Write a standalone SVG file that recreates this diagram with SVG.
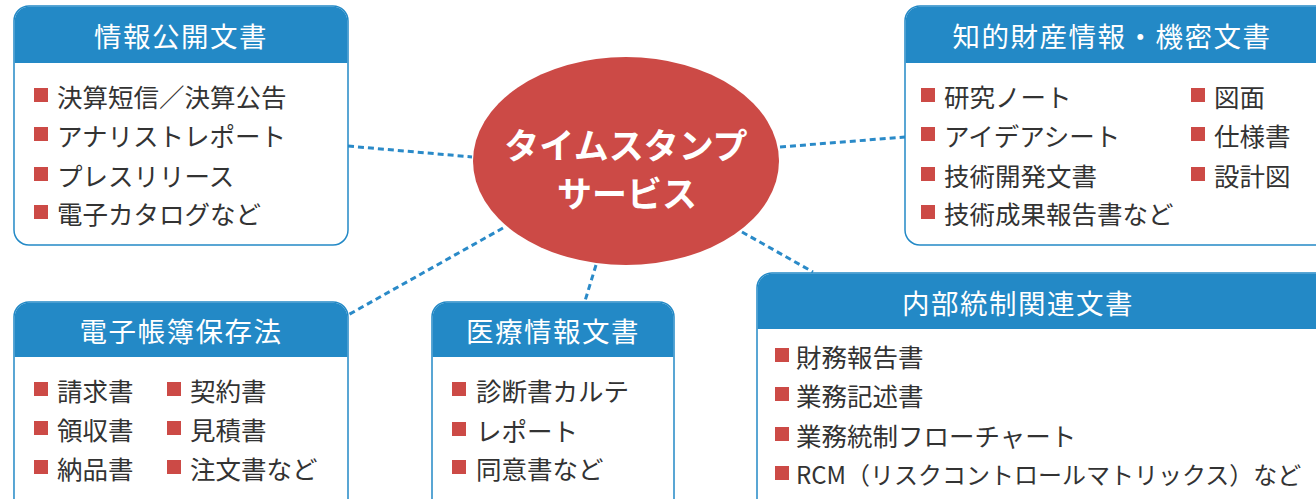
<svg xmlns="http://www.w3.org/2000/svg" width="1316" height="499" viewBox="0 0 1316 499">
<style>
.box{fill:#fff;stroke:#2389c6;stroke-width:1.5}
.hdr{fill:#2389c6}
.ht{fill:#fff;font-family:"Noto Sans CJK JP","Noto Sans",sans-serif;font-size:27.5px;letter-spacing:1.5px;text-anchor:middle;dominant-baseline:central}
.it{fill:#333;font-family:"Noto Sans CJK JP","Noto Sans",sans-serif;font-size:25.5px;dominant-baseline:central}
.sq{fill:#cc4a46}
.con{stroke:#2a8ac8;stroke-width:3;stroke-dasharray:6 4;fill:none}
.ct{fill:#fff;font-family:"Noto Sans CJK JP","Noto Sans",sans-serif;font-size:35px;font-weight:bold;text-anchor:middle;dominant-baseline:central}
</style>
<rect width="1316" height="499" fill="#fff"/>
<g id="connectors">
<line class="con" x1="348" y1="146" x2="472" y2="157"/>
<line class="con" x1="780" y1="147" x2="905" y2="137"/>
<line class="con" x1="503" y1="228" x2="348" y2="315"/>
<line class="con" x1="596" y1="265" x2="585" y2="301"/>
<line class="con" x1="742" y1="232" x2="813" y2="272"/>
</g>
<g id="center">
<ellipse cx="626" cy="161" rx="153" ry="104" fill="#cc4a46"/>
<text class="ct" x="626" y="143">タイムスタンプ</text>
<text class="ct" x="627" y="191">サービス</text>
</g>
<g id="box-info">
<rect class="box" x="14" y="6" width="334" height="239" rx="15"/>
<path class="hdr" d="M14.75 63 V21 A14.25 14.25 0 0 1 29 6.750 H333 A14.25 14.25 0 0 1 347.25 21 V63 Z"/>
<text class="ht" x="181" y="35">情報公開文書</text>
<rect class="sq" x="34" y="88" width="14" height="14"/><text class="it" x="57" y="95">決算短信／決算公告</text>
<rect class="sq" x="34" y="127" width="14" height="14"/><text class="it" x="57" y="134">アナリストレポート</text>
<rect class="sq" x="34" y="167" width="14" height="14"/><text class="it" x="57" y="174">プレスリリース</text>
<rect class="sq" x="34" y="205" width="14" height="14"/><text class="it" x="57" y="212">電子カタログなど</text>
</g>
<g id="box-ip">
<rect class="box" x="905" y="6" width="430" height="239" rx="15"/>
<path class="hdr" d="M905.75 63 V21 A14.25 14.25 0 0 1 920 6.75 H1330 V63 Z"/>
<text class="ht" x="1112" y="35">知的財産情報・機密文書</text>
<rect class="sq" x="921" y="88" width="14" height="14"/><text class="it" x="944" y="95">研究ノート</text>
<rect class="sq" x="921" y="127" width="14" height="14"/><text class="it" x="944" y="134">アイデアシート</text>
<rect class="sq" x="921" y="167" width="14" height="14"/><text class="it" x="944" y="174">技術開発文書</text>
<rect class="sq" x="921" y="205" width="14" height="14"/><text class="it" x="944" y="212">技術成果報告書など</text>
<rect class="sq" x="1191" y="88" width="14" height="14"/><text class="it" x="1214" y="95">図面</text>
<rect class="sq" x="1191" y="127" width="14" height="14"/><text class="it" x="1214" y="134">仕様書</text>
<rect class="sq" x="1191" y="167" width="14" height="14"/><text class="it" x="1214" y="174">設計図</text>
</g>
<g id="box-ebook">
<rect class="box" x="14" y="302" width="334" height="220" rx="15"/>
<path class="hdr" d="M14.75 357 V317 A14.25 14.25 0 0 1 29 302.75 H333 A14.25 14.25 0 0 1 347.25 317 V357 Z"/>
<text class="ht" x="181" y="330">電子帳簿保存法</text>
<rect class="sq" x="34" y="382" width="14" height="14"/><text class="it" x="57" y="389">請求書</text>
<rect class="sq" x="34" y="421" width="14" height="14"/><text class="it" x="57" y="428">領収書</text>
<rect class="sq" x="34" y="460" width="14" height="14"/><text class="it" x="57" y="467">納品書</text>
<rect class="sq" x="167" y="382" width="14" height="14"/><text class="it" x="190" y="389">契約書</text>
<rect class="sq" x="167" y="421" width="14" height="14"/><text class="it" x="190" y="428">見積書</text>
<rect class="sq" x="167" y="460" width="14" height="14"/><text class="it" x="190" y="467">注文書など</text>
</g>
<g id="box-medical">
<rect class="box" x="432" y="302" width="242" height="220" rx="15"/>
<path class="hdr" d="M432.75 357 V317 A14.25 14.25 0 0 1 447 302.75 H659 A14.25 14.25 0 0 1 673.25 317 V357 Z"/>
<text class="ht" x="553" y="330">医療情報文書</text>
<rect class="sq" x="452" y="382" width="14" height="14"/><text class="it" x="476" y="389">診断書カルテ</text>
<rect class="sq" x="452" y="422" width="14" height="14"/><text class="it" x="476" y="429">レポート</text>
<rect class="sq" x="452" y="460" width="14" height="14"/><text class="it" x="476" y="467">同意書など</text>
</g>
<g id="box-internal">
<rect class="box" x="757" y="273" width="580" height="250" rx="15"/>
<path class="hdr" d="M757.75 329 V288 A14.25 14.25 0 0 1 772 273.75 H1330 V329 Z"/>
<text class="ht" x="1018" y="302">内部統制関連文書</text>
<rect class="sq" x="775" y="348" width="14" height="14"/><text class="it" x="796" y="355">財務報告書</text>
<rect class="sq" x="775" y="387" width="14" height="14"/><text class="it" x="796" y="394">業務記述書</text>
<rect class="sq" x="775" y="427" width="14" height="14"/><text class="it" x="796" y="434">業務統制フローチャート</text>
<rect class="sq" x="775" y="466" width="14" height="14"/><text class="it" x="796" y="473" style="font-size:24px">RCM（リスクコントロールマトリックス）など</text>
</g>
</svg>
